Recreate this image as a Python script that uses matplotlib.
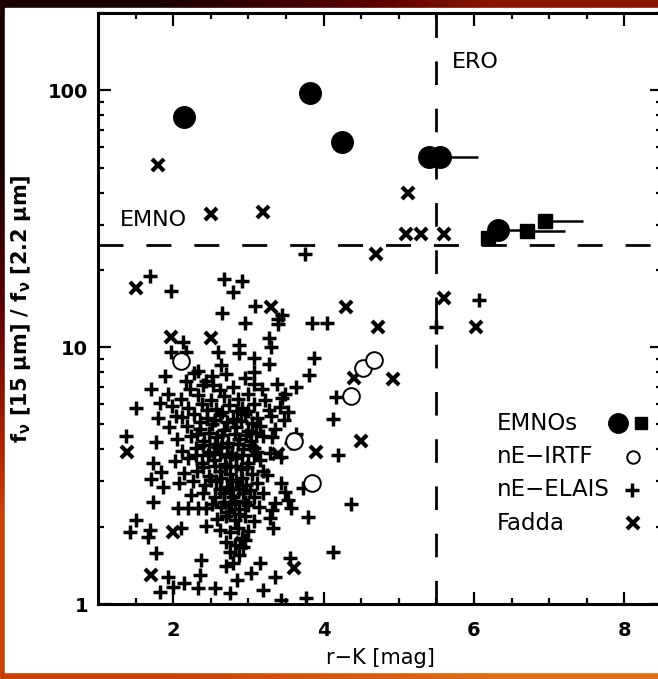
import matplotlib
matplotlib.use('Agg')
import matplotlib.pyplot as plt
from matplotlib.colors import LinearSegmentedColormap
from matplotlib.patches import Rectangle
import numpy as np

plt.rcParams['font.family'] = ['DejaVu Sans']
plt.rcParams['mathtext.default'] = 'regular'
plt.rcParams['lines.scale_dashes'] = False

# EMNOs: filled circles and squares (with one-sided r-K error bars)
emno_circ_x = [2.15, 3.82, 4.25, 5.40, 5.55, 6.32]
emno_circ_y = [79, 98, 63, 55, 55, 28.5]
emno_circ_xerr = [0, 0, 0, 0, 0.50, 0.38]
emno_sq_x = [6.18, 6.71, 6.95]
emno_sq_y = [26.7, 28.3, 31.0]
emno_sq_xerr = [0, 0.50, 0.50]

# nE-IRTF: open circles
irtf_x = [2.10, 3.60, 3.85, 4.37, 4.53, 4.67]
irtf_y = [8.8, 4.3, 2.96, 6.45, 8.3, 8.9]

# Fadda: crosses
fadda_x = [1.80, 2.50, 3.20, 5.12, 5.10, 5.30, 5.60, 4.70, 5.60, 6.02, 4.30, 4.72,
           4.40, 4.92, 4.50, 3.90, 3.60, 1.50, 1.97, 2.50, 3.30, 1.39, 2.00, 1.70,
           2.92, 2.59, 3.40]
fadda_y = [51, 33, 33.5, 40, 27.5, 27.5, 27.5, 23, 15.5, 12, 14.3, 12,
           7.6, 7.5, 4.3, 3.9, 1.38, 17, 11, 10.9, 14.3, 3.9, 1.9, 1.3,
           1.73, 3.9, 3.85]

# nE-ELAIS: pluses, scattered ones
elais_out_x = [3.75, 5.49, 6.07, 3.84, 4.05, 3.45, 3.87, 3.80, 3.63, 3.49, 3.53, 4.16,
               4.13, 4.19, 4.36, 3.79, 4.13, 3.56, 3.73, 3.55, 3.76,
               2.67, 2.92, 2.80, 2.65, 3.09, 2.96, 3.40, 3.39, 2.87, 2.87, 3.28,
               3.30, 2.59, 3.08, 2.63, 3.28, 3.07, 3.07, 2.53,
               1.69, 1.97, 2.13, 1.97, 2.17, 1.89, 1.71, 1.93, 1.51, 1.83, 1.80,
               2.04, 2.33, 2.43, 2.17,
               1.37, 1.77, 1.73, 1.84, 1.71, 1.87, 1.73, 1.51, 1.43, 1.69, 1.67,
               1.77, 1.93, 1.83, 2.00, 2.15, 2.36, 2.37, 2.33, 2.43, 2.11, 2.07,
               2.20, 2.33, 2.44,
               3.16, 3.03, 3.36, 3.19, 3.43, 2.56, 2.76, 3.33, 3.29, 3.32, 3.36,
               3.49, 3.52, 3.43, 3.25, 3.29, 3.43, 3.56, 3.63, 3.32, 3.07, 2.93,
               2.92, 2.85]
elais_out_y = [23, 12, 15.2, 12.4, 12.4, 13.3, 9.1, 7.8, 7.0, 6.6, 5.6, 6.4,
               5.25, 3.8, 2.45, 2.18, 1.59, 2.36, 2.83, 1.51, 1.06,
               18.5, 18.1, 16.4, 13.6, 14.4, 12.4, 12.9, 12.3, 10.2, 9.5, 10.9,
               10.0, 9.6, 9.1, 8.5, 8.6, 8.0, 7.2, 7.1,
               18.9, 16.5, 10.5, 9.6, 9.6, 7.7, 6.9, 6.6, 5.8, 6.05, 5.3,
               5.4, 8.1, 7.4, 7.4,
               4.5, 4.27, 3.54, 3.26, 3.06, 2.85, 2.49, 2.12, 1.91, 1.94, 1.82,
               1.58, 1.27, 1.11, 1.16, 1.21, 1.30, 1.48, 1.15, 2.01, 1.98, 2.36,
               2.36, 2.36, 2.36,
               1.44, 1.32, 1.27, 1.13, 1.04, 1.15, 1.10, 1.98, 2.16, 2.32, 2.47,
               2.73, 2.54, 2.96, 3.18, 3.87, 3.73, 4.23, 4.6, 4.46, 4.05, 1.67,
               1.80, 1.24]

# nE-ELAIS: the dense core
elais_core_x = [2.28, 2.52, 2.70, 2.95,
                2.22, 2.40, 2.62, 2.80, 3.18, 3.38,
                2.10, 2.33, 2.50, 2.68, 2.86, 3.00, 3.22, 3.45,
                1.98, 2.20, 2.38, 2.57, 2.74, 2.91, 3.08, 3.27, 3.42,
                2.12, 2.28, 2.45, 2.62, 2.79, 2.96, 3.12, 3.30, 3.48,
                1.95, 2.18, 2.35, 2.52, 2.68, 2.83, 3.00, 3.16, 3.35,
                2.05, 2.24, 2.41, 2.58, 2.73, 2.88, 3.03, 3.20,
                2.12, 2.30, 2.47, 2.64, 2.78, 2.93, 3.12,
                2.03, 2.20, 2.38, 2.54, 2.69, 2.84, 2.99, 3.15,
                2.15, 2.31, 2.48, 2.62, 2.76, 2.90, 3.05, 3.20,
                2.08, 2.26, 2.42, 2.57, 2.71, 2.84, 2.97, 3.12,
                2.24, 2.40, 2.55, 2.68, 2.80, 2.93, 3.07, 3.20,
                2.52, 2.64, 2.77, 2.88, 3.00, 3.14,
                2.58, 2.70, 2.82, 2.95, 3.08,
                2.62, 2.75, 2.86, 3.00,
                2.70, 2.82, 2.96,
                2.76, 2.88, 2.80, 2.70,
                2.36, 2.55, 2.72, 2.90, 3.05,
                2.32, 2.48, 2.65, 2.82, 2.97, 3.10,
                2.40, 2.55, 2.72, 2.86, 3.02,
                2.30, 2.46, 2.62, 2.76, 2.92, 3.08,
                2.40, 2.55, 2.70, 2.83, 2.98,
                2.50, 2.64, 2.78, 2.91,
                2.62, 2.75, 2.88, 3.02,
                2.68, 2.82, 2.95,
                2.74, 2.88,
                2.45, 2.65, 2.85, 3.00]
elais_core_y = [7.9, 7.7, 7.85, 7.6,
                6.9, 7.1, 6.8, 7.0, 6.9, 7.2,
                6.3, 6.5, 6.2, 6.45, 6.3, 6.6, 6.2, 6.35,
                5.9, 5.8, 6.0, 5.75, 5.95, 5.8, 6.0, 5.7, 5.85,
                5.35, 5.5, 5.3, 5.45, 5.25, 5.5, 5.3, 5.4, 5.2,
                4.9, 4.95, 4.8, 5.0, 4.75, 4.9, 4.7, 4.95, 4.8,
                4.4, 4.5, 4.3, 4.45, 4.25, 4.4, 4.3, 4.5,
                3.95, 4.05, 3.9, 4.1, 3.85, 4.0, 3.9,
                3.6, 3.7, 3.55, 3.65, 3.5, 3.7, 3.55, 3.65,
                3.25, 3.3, 3.15, 3.3, 3.2, 3.35, 3.2, 3.3,
                2.95, 3.0, 2.9, 3.0, 2.85, 3.0, 2.9, 2.95,
                2.65, 2.7, 2.6, 2.7, 2.6, 2.7, 2.62, 2.7,
                2.45, 2.38, 2.45, 2.35, 2.42, 2.38,
                2.15, 2.2, 2.12, 2.2, 2.1,
                1.95, 1.9, 1.98, 1.92,
                1.75, 1.7, 1.78,
                1.6, 1.55, 1.45, 1.40,
                5.1, 5.2, 5.1, 5.15, 5.05,
                4.6, 4.65, 4.55, 4.6, 4.55, 4.65,
                4.15, 4.2, 4.1, 4.2, 4.15,
                3.8, 3.8, 3.85, 3.75, 3.8, 3.8,
                3.4, 3.45, 3.4, 3.45, 3.4,
                3.05, 3.1, 3.05, 3.1,
                2.8, 2.8, 2.8, 2.78,
                2.5, 2.52, 2.5,
                2.28, 2.25,
                5.7, 5.6, 5.65, 5.65]

legend_labels = ['EMNOs', 'nE\u2212IRTF', 'nE\u2212ELAIS', 'Fadda']

fig = plt.figure(figsize=(6.58, 6.79), dpi=100)

# slide-like background: dark red to orange border around a white panel
bg = fig.add_axes([0, 0, 1, 1], zorder=-10)
cmap = LinearSegmentedColormap.from_list('border', ['#120000', '#5a0000', '#b82a00', '#f08a20'])
bg.imshow([[0.05, 0.5], [0.75, 0.9]], cmap=cmap, vmin=0, vmax=1,
          interpolation='bilinear', aspect='auto', extent=[0, 1, 0, 1])
bg.add_patch(Rectangle((5 / 658, 7 / 679), 1, 664 / 679, color='white', zorder=2))
bg.set_xlim(0, 1)
bg.set_ylim(0, 1)
bg.axis('off')

ax = fig.add_axes([98 / 658, 1 - 604 / 679, 564 / 658, 591 / 679])
ax.set_facecolor('none')
ax.set_yscale('log')
ax.set_xlim(1, 8.5)
ax.set_ylim(1, 200)

# region boundaries
ax.plot([5.5, 5.5], [1, 200], color='black', lw=2.0, dashes=(17, 17), zorder=1)
ax.plot([1, 8.5], [25, 25], color='black', lw=2.0, dashes=(18, 16.5), zorder=1)

ax.plot(elais_core_x, elais_core_y, '+', color='black', ms=10, mew=2.5, zorder=3)
ax.plot(elais_out_x, elais_out_y, '+', color='black', ms=10, mew=2.5, zorder=3)
ax.plot(fadda_x, fadda_y, 'x', color='black', ms=8.5, mew=3, zorder=3)
ax.plot(irtf_x, irtf_y, 'o', mfc='white', mec='black', ms=12, mew=1.4, zorder=4)

ax.errorbar(emno_circ_x, emno_circ_y, xerr=[[0] * len(emno_circ_x), emno_circ_xerr],
            fmt='o', color='black', ms=15.5, elinewidth=1.8, capsize=0, zorder=5)
ax.errorbar(emno_sq_x, emno_sq_y, xerr=[[0] * len(emno_sq_x), emno_sq_xerr],
            fmt='s', color='black', ms=10, elinewidth=1.8, capsize=0, zorder=5)

ax.text(0.628, 0.917, 'ERO', transform=ax.transAxes, fontsize=16, va='center', ha='left')
ax.text(0.039, 0.650, 'EMNO', transform=ax.transAxes, fontsize=16, va='center', ha='left')

# hand-made legend
rows = [0.306, 0.249, 0.193, 0.137]
for lab, yy in zip(legend_labels, rows):
    ax.text(0.707, yy, lab, transform=ax.transAxes, fontsize=16.5, va='center', ha='left')
ax.plot([0.922], [rows[0]], 'o', color='black', ms=14, transform=ax.transAxes, clip_on=False)
ax.plot([0.963], [rows[0]], 's', color='black', ms=9, transform=ax.transAxes, clip_on=False)
ax.plot([0.949], [rows[1]], 'o', mfc='white', mec='black', ms=9, mew=1.4,
        transform=ax.transAxes, clip_on=False)
ax.plot([0.947], [rows[2]], '+', color='black', ms=10, mew=2.5, transform=ax.transAxes, clip_on=False)
ax.plot([0.949], [rows[3]], 'x', color='black', ms=8.5, mew=3, transform=ax.transAxes, clip_on=False)

# axes styling
for s in ax.spines.values():
    s.set_linewidth(2.2)
ax.set_xticks([2, 4, 6, 8])
ax.set_xticks(np.arange(1.5, 8.5, 0.5), minor=True)
ax.set_yticks([1, 10, 100])
ax.set_yticklabels(['1', '10', '100'])
ax.tick_params(which='both', direction='in', top=True, right=True, width=1.6)
ax.tick_params(which='major', length=9)
ax.tick_params(which='minor', length=4.5)
ax.tick_params(axis='x', pad=12, labelsize=14)
ax.tick_params(axis='y', pad=7, labelsize=14)
for t in ax.get_xticklabels() + ax.get_yticklabels():
    t.set_fontweight('bold')

ax.set_xlabel('r\u2212K [mag]', fontsize=15)
ax.xaxis.set_label_coords(0.5, -0.075)
ax.set_ylabel('f$_\\nu$ [15 $\\mu$m] / f$_\\nu$ [2.2 $\\mu$m]', fontsize=15, fontweight='bold')
ax.yaxis.set_label_coords(-0.115, 0.5)

fig.savefig('out.png', dpi=100)
